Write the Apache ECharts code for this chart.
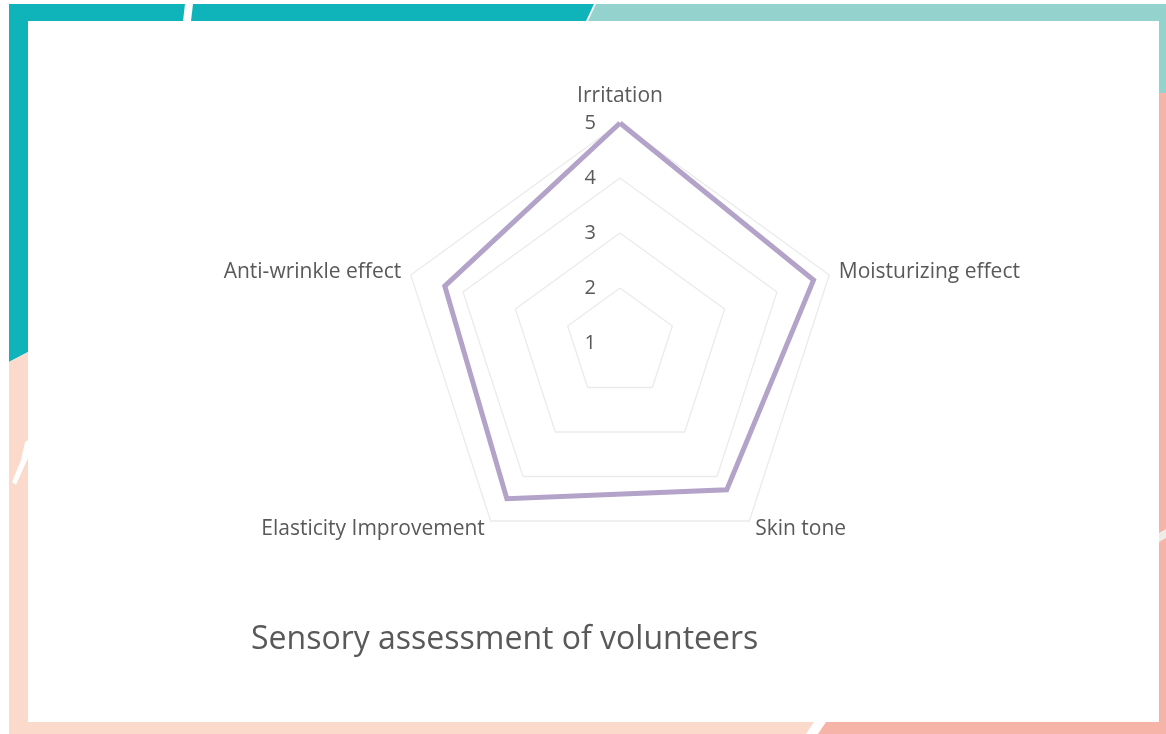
<!DOCTYPE html>
<html>
<head>
<meta charset="utf-8">
<script src="https://cdn.jsdelivr.net/npm/echarts@6/dist/echarts.min.js"></script>
<style>
html, body { margin: 0; padding: 0; background: #fff; }
#main { width: 1166px; height: 734px; }
</style>
</head>
<body>
<div id="main"></div>
<script>
// data, clockwise from the top
var indicatorNames = ['Irritation', 'Moisturizing effect', 'Skin tone', 'Elasticity Improvement', 'Anti-wrinkle effect'];
var scoreValues = [5, 4.7, 4.3, 4.5, 4.35];
var scaleTicks = [1, 2, 3, 4, 5];
var chartTitle = 'Sensory assessment of volunteers';

var textGray = '#595959';
var fontName = 'Open Sans';

// echarts radar runs counter-clockwise, so keep the first and flip the rest
function ccwOrder(arr) {
    return [arr[0]].concat(arr.slice(1).reverse());
}

var indicators = ccwOrder(indicatorNames).map(function(n, i) {
    var ind = { name: n, min: scaleTicks[0], max: scaleTicks[scaleTicks.length - 1] };
    if (i == 0) {
        // only the top axis carries the scale labels
        ind.axisLabel = {
            show: true,
            color: textGray,
            fontSize: 20,
            fontFamily: fontName,
            margin: 24
        };
        ind.nameGap = 16;
    }
    return ind;
});

// slide frame behind the chart
var frame = [
    { type: 'polygon', shape: { points: [[9, 4], [594, 4], [586, 21], [9, 21]] }, style: { fill: '#0fb4bb' } },
    { type: 'polygon', shape: { points: [[596, 4], [1166, 4], [1166, 21], [588, 21]] }, style: { fill: '#93d2cd' } },
    { type: 'polygon', shape: { points: [[9, 21], [28, 21], [28, 352], [9, 362]] }, style: { fill: '#0fb4bb' } },
    { type: 'polygon', shape: { points: [[9, 362], [28, 352], [28, 734], [9, 734]] }, style: { fill: '#fbd9cb' } },
    { type: 'rect', shape: { x: 1159, y: 21, width: 7, height: 72 }, style: { fill: '#93d2cd' } },
    { type: 'rect', shape: { x: 1159, y: 93, width: 7, height: 641 }, style: { fill: '#f6b4a8' } },
    { type: 'polygon', shape: { points: [[28, 722], [814, 722], [806, 734], [28, 734]] }, style: { fill: '#fbd9cb' } },
    { type: 'polygon', shape: { points: [[826, 722], [1159, 722], [1159, 734], [818, 734]] }, style: { fill: '#f6b4a8' } },
    // small white brush marks
    { type: 'polygon', shape: { points: [[185, 4], [193, 4], [191, 21], [183, 21]] }, style: { fill: '#fff' } },
    { type: 'polygon', shape: { points: [[25, 442], [28, 440], [28, 458], [16, 485], [12, 482], [21, 460]] }, style: { fill: '#fff' } },
    { type: 'polygon', shape: { points: [[1159, 533], [1166, 529], [1166, 538], [1159, 542]] }, style: { fill: '#f0ebe6' } }
];

var chart = echarts.init(document.getElementById('main'));

var option = {
    backgroundColor: '#fff',
    animation: false,
    graphic: { elements: frame },
    title: {
        text: chartTitle,
        left: 246,
        top: 619,
        textStyle: {
            color: textGray,
            fontFamily: fontName,
            fontWeight: 'normal',
            fontSize: 32
        }
    },
    radar: {
        center: [620, 343],
        radius: 220,
        startAngle: 90,
        splitNumber: scaleTicks.length - 1,
        shape: 'polygon',
        nameGap: 10,
        axisName: {
            color: textGray,
            fontFamily: fontName,
            fontSize: 21
        },
        axisLine: { show: false },
        axisTick: { show: false },
        axisLabel: { show: false },
        splitArea: { show: false },
        splitLine: {
            lineStyle: { color: '#ebebeb', width: 1.3 }
        },
        indicator: indicators
    },
    series: [{
        type: 'radar',
        symbol: 'none',
        lineStyle: {
            color: '#b3a3c9',
            width: 5,
            join: 'miter'
        },
        data: [{ value: ccwOrder(scoreValues), name: 'Score' }]
    }]
};

chart.setOption(option);
</script>
</body>
</html>
